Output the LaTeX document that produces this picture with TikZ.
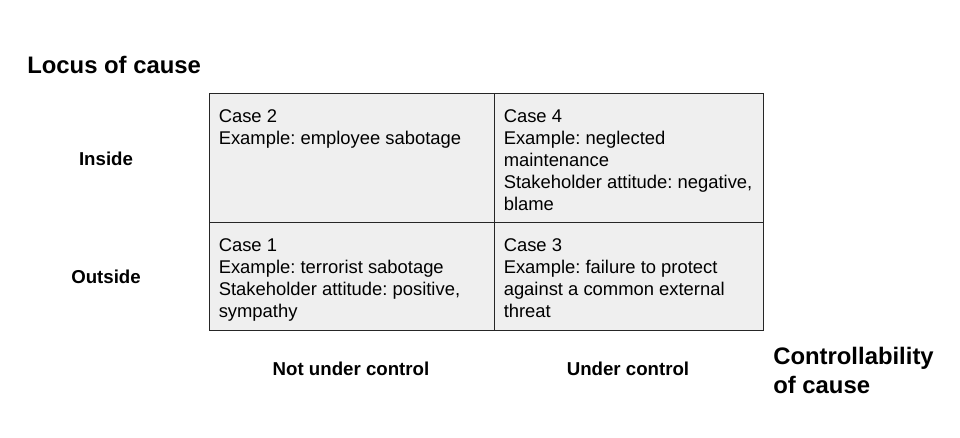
\documentclass[tikz,border=0pt]{standalone}
\usepackage{fontspec}
\setmainfont{Liberation Sans}
\frenchspacing
\definecolor{cellgray}{HTML}{EFEFEF}
\begin{document}
\begin{tikzpicture}[x=0.75pt,y=-0.75pt,
  cell/.style={draw=black!85, line width=0.75pt, fill=cellgray, inner sep=0pt},
  celltext/.style={anchor=north west, inner sep=0pt, align=left, font=\fontsize{13.8}{16.5}\selectfont},
  axislabel/.style={font=\bfseries\fontsize{14}{16}\selectfont},
  axistitle/.style={anchor=west, inner sep=0pt, align=left, font=\bfseries\fontsize{17.9}{21.75}\selectfont}]
\useasboundingbox (0,0) rectangle (960,438);

% Cells
\node[cell, minimum width=213.75pt, minimum height=96.75pt] (c2) at (351.5,158.5) {};
\node[cell, minimum width=201.75pt, minimum height=96.75pt] (c4) at (628.5,158.5) {};
\node[cell, minimum width=213.75pt, minimum height=80.25pt] (c1) at (351.5,276.5) {};
\node[cell, minimum width=201.75pt, minimum height=80.25pt] (c3) at (628.5,276.5) {};

% Cell texts
\node[celltext] (t2) at ([shift={(10,15.5)}]c2.north west) {Case 2\\Example: employee sabotage};
\node[celltext] (t4) at ([shift={(10,15.5)}]c4.north west) {Case 4\\Example: neglected\\maintenance\\Stakeholder attitude: negative,\\blame};
\node[celltext] (t1) at ([shift={(10,15.5)}]c1.north west) {Case 1\\Example: terrorist sabotage\\Stakeholder attitude: positive,\\sympathy};
\node[celltext] (t3) at ([shift={(10,15.5)}]c3.north west) {Case 3\\Example: failure to protect\\against a common external\\threat};

% Axes
\node[axistitle] (locus) at (27,65) {Locus of cause};
\node[axislabel] (inside) at (106,159) {Inside};
\node[axislabel] (outside) at (106,277) {Outside};
\node[axislabel] (notctrl) at (351,369) {Not under control};
\node[axislabel] (ctrl) at (628,369) {Under control};
\node[axistitle] (control) at (773,370) {Controllability\\of cause};
\end{tikzpicture}
\end{document}
